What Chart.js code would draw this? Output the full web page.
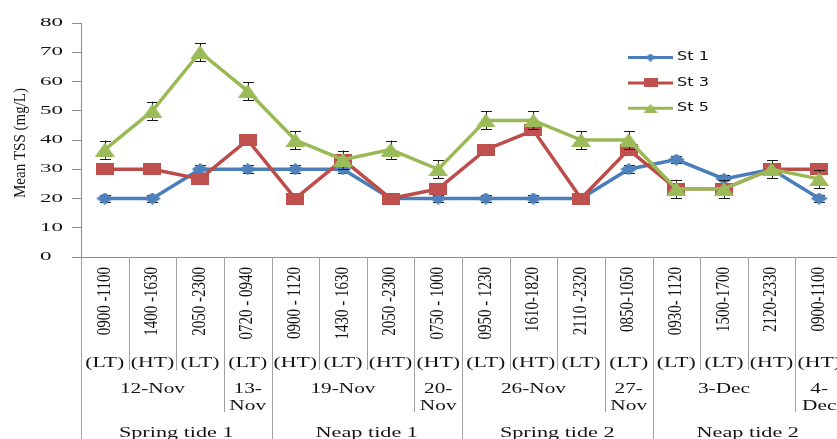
<!DOCTYPE html>
<html>
<head>
<meta charset="utf-8">
<title>Mean TSS</title>
<script src="https://cdn.jsdelivr.net/npm/chart.js@4.4.1/dist/chart.umd.min.js"></script>
<style>
  html, body { margin: 0; padding: 0; background: #ffffff; overflow: hidden; }
  #wrap { position: relative; width: 850px; height: 439px; }
</style>
</head>
<body>
<div id="wrap"><canvas id="c" width="850" height="439"></canvas></div>
<script>
// Sampling windows (innermost category level)
const timeLabels = ['0900 -1100', '1400 -1630', '2050 -2300', '0720 - 0940',
                    '0900 - 1120', '1430 - 1630', '2050 -2300', '0750 - 1000',
                    '0950 - 1230', '1610-1820', '2110 -2320', '0850-1050',
                    '0930- 1120', '1500-1700', '2120-2330', '0900-1100'];
// Tide state of each window
const tideStates = ['(LT)', '(HT)', '(LT)', '(LT)', '(HT)', '(LT)', '(HT)', '(HT)',
                    '(LT)', '(HT)', '(LT)', '(LT)', '(LT)', '(LT)', '(HT)', '(HT)'];
// Sampling dates and how many windows each covers
const dateLabels = ['12-Nov', '13-\nNov', '19-Nov', '20-\nNov', '26-Nov', '27-\nNov', '3-Dec', '4-\nDec'];
const dateSpans = [3, 1, 3, 1, 3, 1, 3, 1];
// Tidal cycle groups
const tideLabels = ['Spring tide 1', 'Neap tide 1', 'Spring tide 2', 'Neap tide 2'];
const tideSpans = [4, 4, 4, 4];

// Mean TSS (mg/L) per station
const seriesNames = ['St 1', 'St 3', 'St 5'];
const st1 = [20, 20, 30, 30, 30, 30, 20, 20, 20, 20, 20, 30, 33.3, 26.7, 30, 20];
const st3 = [30, 30, 26.7, 40, 20, 33.3, 20, 23.3, 36.7, 43.3, 20, 36.7, 23.3, 23.3, 30, 30];
const st5 = [36.7, 50, 70, 56.7, 40, 33.3, 36.7, 30, 46.7, 46.7, 40, 40, 23.3, 23.3, 30, 26.7];
// Error bar half-widths (mg/L)
const st1Err = [1.3, 1.3, 1.3, 1.3, 1.3, 1.3, 1.3, 1.3, 1.3, 1.3, 1.3, 1.3, 1.3, 1.3, 1.3, 1.3];
const st3Err = null;
const st5Err = [3.1, 3.1, 3.1, 3.1, 3.1, 3.1, 3.1, 3.1, 3.1, 3.1, 3.1, 3.1, 3.1, 3.1, 3.1, 3.1];

// Value axis
const yMin = 0, yMax = 80, yStep = 10;
const yTitle = 'Mean TSS (mg/L)';

const COLORS = {
  st1Line: '#4A7EBB', st1Mark: '#4F81BD',
  st3Line: '#BE4B48', st3Mark: '#C0504D',
  st5Line: '#98B954', st5Mark: '#9BBB59',
  axis: '#8c8c8c', sep: '#a0a0a0', text: '#141414'
};

function makeMarker(shape, w, h, color) {
  const c = document.createElement('canvas');
  c.width = w; c.height = h;
  const g = c.getContext('2d');
  g.fillStyle = color;
  g.beginPath();
  if (shape === 'diamond') {
    g.moveTo(0, h / 2); g.lineTo(w / 2, 0); g.lineTo(w, h / 2); g.lineTo(w / 2, h);
  } else if (shape === 'square') {
    g.rect(0, 0, w, h);
  } else {
    g.moveTo(w / 2, 0); g.lineTo(w, h); g.lineTo(0, h);
  }
  g.closePath();
  g.fill();
  return c;
}

const chartMarkers = [
  makeMarker('diamond', 17, 12, COLORS.st1Mark),
  makeMarker('square', 18, 12, COLORS.st3Mark),
  makeMarker('triangle', 20, 14, COLORS.st5Mark)
];
const legendMarkers = [
  makeMarker('diamond', 11, 8, COLORS.st1Mark),
  makeMarker('square', 14, 9, COLORS.st3Mark),
  makeMarker('triangle', 14, 9, COLORS.st5Mark)
];
const errorSets = [st1Err, st3Err, st5Err];

function stretchedText(ctx, text, x, y, opts) {
  ctx.save();
  ctx.translate(x, y);
  ctx.scale(opts.sx || 1, 1);
  if (opts.rotate) ctx.rotate(opts.rotate);
  ctx.font = opts.font;
  ctx.fillStyle = opts.color || COLORS.text;
  ctx.textAlign = opts.align || 'center';
  ctx.textBaseline = opts.baseline || 'middle';
  ctx.fillText(text, 0, 0);
  ctx.restore();
}

// Error bars sit beneath each series' line and markers
const errorBars = {
  id: 'errorBars',
  beforeDatasetDraw(chart, args) {
    const err = errorSets[args.index];
    if (!err) return;
    const ctx = chart.ctx;
    const ys = chart.scales.y;
    const data = chart.data.datasets[args.index].data;
    ctx.save();
    ctx.strokeStyle = '#1a1a1a';
    ctx.lineWidth = 1;
    args.meta.data.forEach((pt, i) => {
      const top = ys.getPixelForValue(data[i] + err[i]);
      const bot = ys.getPixelForValue(data[i] - err[i]);
      const x = Math.round(pt.x) + 0.5;
      ctx.beginPath();
      ctx.moveTo(x, top); ctx.lineTo(x, bot);
      ctx.moveTo(x - 5.5, Math.round(top) + 0.5); ctx.lineTo(x + 5.5, Math.round(top) + 0.5);
      ctx.moveTo(x - 5.5, Math.round(bot) + 0.5); ctx.lineTo(x + 5.5, Math.round(bot) + 0.5);
      ctx.stroke();
    });
    ctx.restore();
  }
};

// Axis labels, multi-level category axis and legend
const axisDecor = {
  id: 'axisDecor',
  afterDraw(chart) {
    const ctx = chart.ctx;
    const xs = chart.scales.x, ys = chart.scales.y;
    const bottom = chart.chartArea.bottom;
    const H = chart.height;
    const serif = '"Liberation Serif", "Times New Roman", serif';

    // value axis tick labels
    ys.ticks.forEach(t => {
      stretchedText(ctx, String(t.value), 40, ys.getPixelForValue(t.value),
        { font: '11.5px ' + serif, sx: 2.0, align: 'left' });
    });
    // value axis title
    stretchedText(ctx, yTitle, 20, 143,
      { font: '15px ' + serif, sx: 1.18, rotate: -Math.PI / 2 });

    const edge = k => xs.getPixelForValue(k - 0.5);

    // separators below the axis
    const dateBounds = new Set(); let acc = 0;
    dateSpans.forEach(n => { acc += n; dateBounds.add(acc); });
    const tideBounds = new Set(); acc = 0;
    tideSpans.forEach(n => { acc += n; tideBounds.add(acc); });
    ctx.save();
    ctx.strokeStyle = COLORS.sep;
    ctx.lineWidth = 1;
    for (let k = 0; k <= timeLabels.length; k++) {
      let yEnd = 370;
      if (k === 0 || tideBounds.has(k)) yEnd = H;
      else if (dateBounds.has(k)) yEnd = 412;
      const x = Math.round(edge(k)) + 0.5;
      ctx.beginPath();
      ctx.moveTo(x, bottom); ctx.lineTo(x, yEnd);
      ctx.stroke();
    }
    ctx.restore();

    // level 1: rotated time windows, level 2: tide state
    timeLabels.forEach((lab, i) => {
      const cx = xs.getPixelForValue(i);
      stretchedText(ctx, lab, cx, 267,
        { font: '15px ' + serif, sx: 1.2, rotate: -Math.PI / 2, align: 'right' });
      stretchedText(ctx, tideStates[i], cx, 367,
        { font: '15px ' + serif, sx: 1.45, baseline: 'alphabetic' });
    });

    // level 3: dates
    let s = 0;
    dateLabels.forEach((lab, j) => {
      const cx = (edge(s) + edge(s + dateSpans[j])) / 2;
      lab.split('\n').forEach((line, li) => {
        stretchedText(ctx, line, cx, 393 + li * 17,
          { font: '15px ' + serif, sx: 1.42, baseline: 'alphabetic' });
      });
      s += dateSpans[j];
    });

    // level 4: tide cycles
    s = 0;
    tideLabels.forEach((lab, j) => {
      const cx = (edge(s) + edge(s + tideSpans[j])) / 2;
      stretchedText(ctx, lab, cx, 437,
        { font: '15px ' + serif, sx: 1.48, baseline: 'alphabetic' });
      s += tideSpans[j];
    });

    // legend
    chart.data.datasets.forEach((ds, i) => {
      const ly = 57.5 + i * 25.4;
      ctx.save();
      ctx.strokeStyle = ds.borderColor;
      ctx.lineWidth = 3;
      ctx.beginPath();
      ctx.moveTo(628, ly); ctx.lineTo(673, ly);
      ctx.stroke();
      const m = legendMarkers[i];
      ctx.drawImage(m, 650.5 - m.width / 2, ly - m.height / 2);
      ctx.restore();
      stretchedText(ctx, ds.label, 677, ly,
        { font: '11.5px "DejaVu Sans", sans-serif', sx: 1.4, align: 'left' });
    });
  }
};

const mkDataset = (i, data, line) => ({
  label: seriesNames[i],
  data: data,
  borderColor: line,
  backgroundColor: line,
  borderWidth: 3.5,
  tension: 0,
  fill: false,
  pointStyle: chartMarkers[i],
  pointRadius: 8,
  pointHoverRadius: 8,
  order: 2 - i
});

new Chart(document.getElementById('c'), {
  type: 'line',
  data: {
    labels: timeLabels,
    datasets: [
      mkDataset(0, st1, COLORS.st1Line),
      mkDataset(1, st3, COLORS.st3Line),
      mkDataset(2, st5, COLORS.st5Line)
    ]
  },
  options: {
    responsive: false,
    animation: false,
    events: [],
    layout: { padding: { top: 23, right: 7, left: 0, bottom: 0 }, autoPadding: false },
    plugins: { legend: { display: false }, tooltip: { enabled: false } },
    scales: {
      x: {
        type: 'category',
        offset: true,
        ticks: { display: false },
        grid: { display: false },
        border: { display: true, color: COLORS.axis, width: 1 },
        afterFit(scale) { scale.height = 182; }
      },
      y: {
        min: yMin, max: yMax,
        ticks: { stepSize: yStep, display: false },
        grid: { drawOnChartArea: false, drawTicks: true, tickLength: 9, color: COLORS.axis },
        border: { display: true, color: COLORS.axis, width: 1 },
        afterFit(scale) { scale.width = 81; }
      }
    }
  },
  plugins: [errorBars, axisDecor]
});
</script>
</body>
</html>
